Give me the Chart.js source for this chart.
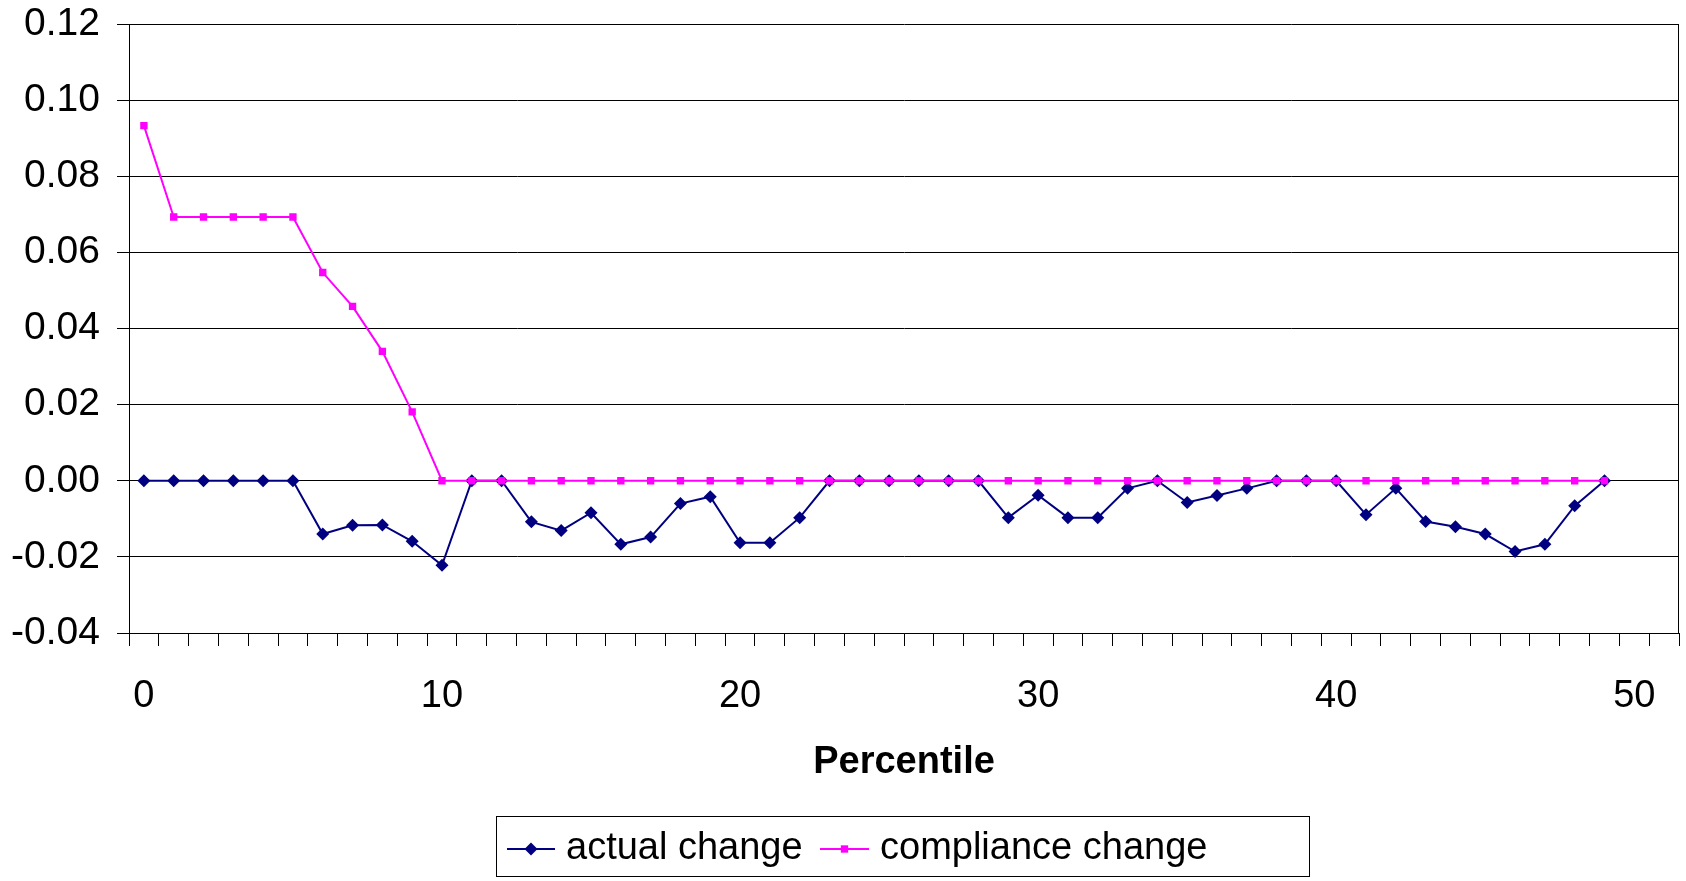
<!DOCTYPE html>
<html>
<head>
<meta charset="utf-8">
<title>actual change vs compliance change</title>
<script src="https://cdn.jsdelivr.net/npm/chart.js@4/dist/chart.umd.min.js"></script>
<style>
	html, body { margin: 0; padding: 0; background: #fff; }
	#wrap { position: relative; width: 1686px; height: 881px; }
</style>
</head>
<body>
<div id="wrap"><canvas id="pct-chart"></canvas></div>
<script>
( function () {
	'use strict';

	// Percentile categories (52 slots on the axis, data for 0..49).
	var categories = [
		0, 1, 2, 3, 4, 5, 6, 7, 8, 9,
		10, 11, 12, 13, 14, 15, 16, 17, 18, 19,
		20, 21, 22, 23, 24, 25, 26, 27, 28, 29,
		30, 31, 32, 33, 34, 35, 36, 37, 38, 39,
		40, 41, 42, 43, 44, 45, 46, 47, 48, 49,
		50, 51
	];

	var actualChange = [
		0, 0, 0, 0, 0, 0, -0.0140, -0.0117, -0.0116, -0.0159,
		-0.0222, 0, 0, -0.0108, -0.0131, -0.0084, -0.0167, -0.0148, -0.0060, -0.0042,
		-0.0163, -0.0163, -0.0097, 0, 0, 0, 0, 0, 0, -0.0097,
		-0.0038, -0.0097, -0.0097, -0.0020, 0, -0.0057, -0.0039, -0.0020, 0, 0,
		0, -0.0089, -0.0020, -0.0107, -0.0121, -0.0140, -0.0186, -0.0167, -0.0066, 0
	];

	var complianceChange = [
		0.0933, 0.0693, 0.0693, 0.0693, 0.0693, 0.0693, 0.0547, 0.0458, 0.0340, 0.0181,
		0, 0, 0, 0, 0, 0, 0, 0, 0, 0,
		0, 0, 0, 0, 0, 0, 0, 0, 0, 0,
		0, 0, 0, 0, 0, 0, 0, 0, 0, 0,
		0, 0, 0, 0, 0, 0, 0, 0, 0, 0
	];

	var seriesNames = [ 'actual change', 'compliance change' ];
	var xTitle      = 'Percentile';

	var FONT  = '"Liberation Sans", Arial, sans-serif';
	var NAVY  = '#000080';
	var PINK  = '#ff00ff';

	// ── Right border + boxed legend (Excel style) ───────────────────────────
	var excelFrame = {
		id : 'excelFrame',
		afterDraw : function ( chart ) {
			var ctx  = chart.ctx;
			var area = chart.chartArea;

			ctx.save();
			ctx.strokeStyle = '#000';
			ctx.lineWidth   = 1;
			ctx.beginPath();
			ctx.moveTo( Math.round( area.right ) - 0.5, area.top );
			ctx.lineTo( Math.round( area.right ) - 0.5, area.bottom );
			ctx.stroke();

			// legend box
			ctx.strokeRect( 496.5, 816.5, 813, 60 );

			var items = [
				{ x0 : 507, x1 : 555, tx : 566, ds : chart.data.datasets[ 0 ] },
				{ x0 : 820, x1 : 869, tx : 880, ds : chart.data.datasets[ 1 ] },
			];
			var ly = 849;
			items.forEach( function ( it ) {
				var ds = it.ds;
				var cx = ( it.x0 + it.x1 ) / 2;
				ctx.strokeStyle = ds.borderColor;
				ctx.lineWidth   = 2;
				ctx.beginPath();
				ctx.moveTo( it.x0, ly );
				ctx.lineTo( it.x1, ly );
				ctx.stroke();

				ctx.fillStyle = ds.backgroundColor;
				ctx.beginPath();
				if ( ds.pointStyle === 'rectRot' ) {
					var r = ds.pointRadius;
					ctx.moveTo( cx - r, ly );
					ctx.lineTo( cx, ly - r );
					ctx.lineTo( cx + r, ly );
					ctx.lineTo( cx, ly + r );
					ctx.closePath();
				} else {
					var s = ds.pointRadius * Math.SQRT1_2;
					ctx.rect( cx - s, ly - s, 2 * s, 2 * s );
				}
				ctx.fill();

				ctx.fillStyle    = '#000';
				ctx.font         = '38px ' + FONT;
				ctx.textAlign    = 'left';
				ctx.textBaseline = 'middle';
				ctx.fillText( ds.label, it.tx, ly );
			} );
			ctx.restore();
		},
	};

	var ctxEl = document.getElementById( 'pct-chart' );
	new Chart( ctxEl, {
		type : 'line',
		data : {
			labels   : categories,
			datasets : [
				{
					label            : seriesNames[ 0 ],
					data             : actualChange,
					borderColor      : NAVY,
					backgroundColor  : NAVY,
					borderWidth      : 2,
					pointStyle       : 'rectRot',
					pointRadius      : 6.5,
					pointBorderWidth : 0,
					tension          : 0,
					order            : 1,
				},
				{
					label            : seriesNames[ 1 ],
					data             : complianceChange,
					borderColor      : PINK,
					backgroundColor  : PINK,
					borderWidth      : 2,
					pointStyle       : 'rect',
					pointRadius      : 5.2,
					pointBorderWidth : 0,
					tension          : 0,
					order            : 0,
				},
			],
		},
		options : {
			responsive          : true,
			maintainAspectRatio : false,
			animation           : false,
			layout : {
				autoPadding : false,
				padding     : { left : 0, right : 7, top : 24, bottom : 91 },
			},
			plugins : {
				legend  : { display : false },
				tooltip : { enabled : false },
			},
			scales : {
				x : {
					type   : 'category',
					offset : true,
					grid   : {
						offset          : true,
						drawOnChartArea : false,
						drawTicks       : true,
						tickLength      : 13,
						color           : '#000',
					},
					border : { color : '#000', width : 1 },
					ticks  : {
						autoSkip    : false,
						maxRotation : 0,
						padding     : 28,
						color       : '#000',
						font        : { family : FONT, size : 38 },
						callback    : function ( value, index ) {
							return index % 10 === 0 ? this.getLabelForValue( value ) : '';
						},
					},
					title : {
						display : true,
						text    : xTitle,
						color   : '#000',
						font    : { family : FONT, size : 38, weight : 'bold' },
						padding : { top : 0, bottom : 5 },
					},
					afterFit : function ( scale ) {
						scale.height       = 157;
						scale.paddingLeft  = 0;
						scale.paddingRight = 0;
					},
				},
				y : {
					min  : -0.04,
					max  : 0.12,
					grid : {
						color      : '#000',
						lineWidth  : 1,
						drawTicks  : true,
						tickLength : 12,
					},
					border : { color : '#000', width : 1 },
					ticks  : {
						stepSize : 0.02,
						padding  : 17,
						color    : '#000',
						font     : { family : FONT, size : 39 },
						callback : function ( v ) { return v.toFixed( 2 ); },
					},
					afterFit : function ( scale ) {
						scale.width         = 129;
						scale.paddingTop    = 0;
						scale.paddingBottom = 0;
					},
				},
			},
		},
		plugins : [ excelFrame ],
	} );
} )();
</script>
</body>
</html>
